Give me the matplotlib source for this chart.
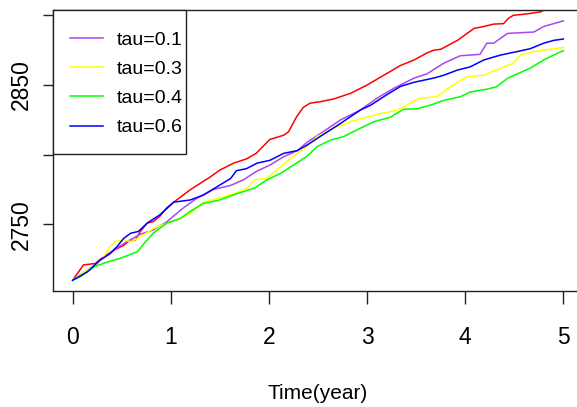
import matplotlib
matplotlib.use('Agg')
import matplotlib.pyplot as plt
from matplotlib.patches import Rectangle

FONT = 'Liberation Sans'

# ---------------- data ----------------
t_red = [0.0, 0.11, 0.23, 0.30, 0.43, 0.52, 0.57, 0.64, 0.69, 0.76, 0.82, 0.89, 0.96, 1.03,
         1.2, 1.4, 1.5, 1.64, 1.77, 1.87, 1.94, 2.01, 2.15, 2.20, 2.28, 2.35, 2.42, 2.52,
         2.66, 2.83, 3.0, 3.17, 3.34, 3.48, 3.61, 3.68, 3.75, 3.92, 4.09, 4.19, 4.29, 4.39,
         4.44, 4.49, 4.63, 4.77, 4.9, 5.0]
v_red = [2710, 2721, 2722, 2726, 2732, 2735, 2738, 2739, 2745, 2751, 2752, 2756, 2762, 2766,
         2775, 2784, 2789, 2794, 2797, 2801, 2806, 2811, 2814, 2816.5, 2827, 2834, 2837, 2838,
         2840, 2844, 2850, 2857, 2864, 2868, 2873, 2875, 2875.6, 2882, 2890.6, 2892, 2893.7, 2894,
         2897.8, 2900, 2901, 2902.5, 2908, 2910]

t_p1 = [0.0, 0.1, 0.21, 0.35, 0.45, 0.56, 0.69, 0.82, 0.96, 1.13, 1.27, 1.43, 1.61, 1.74,
        1.87, 2.01, 2.15, 2.29, 2.39, 2.52, 2.73, 2.93, 3.1, 3.27, 3.48, 3.61, 3.78, 3.95,
        4.15, 4.22, 4.29, 4.43, 4.56, 4.7, 4.8, 5.0]
v_p1 = [2710, 2715, 2720, 2728, 2733, 2738, 2743, 2746, 2752, 2762, 2769, 2775, 2778, 2782,
        2788, 2792.6, 2798.6, 2803, 2809, 2815, 2825, 2832, 2840.5, 2847.6, 2855, 2858, 2865.6, 2871,
        2872, 2880, 2880, 2887, 2887.5, 2888, 2892, 2896]

t_p3 = [0.0, 0.15, 0.25, 0.32, 0.38, 0.43, 0.52, 0.59, 0.69, 0.82, 0.96, 1.06, 1.2, 1.33,
        1.5, 1.64, 1.78, 1.85, 1.98, 2.08, 2.18, 2.29, 2.39, 2.49, 2.66, 2.83, 3.0, 3.17,
        3.31, 3.44, 3.54, 3.71, 3.85, 4.02, 4.19, 4.36, 4.49, 4.56, 4.7, 4.8, 4.9, 5.0]
v_p3 = [2710, 2717.4, 2721, 2727, 2734, 2737.7, 2739, 2737.7, 2741, 2747, 2751, 2753, 2758, 2766,
        2769, 2772, 2776, 2782, 2783, 2789, 2795, 2801, 2806, 2813, 2819, 2823.7, 2827, 2830,
        2832, 2837, 2840.5, 2841.6, 2848.8, 2856, 2857, 2862, 2865.6, 2871.5, 2874, 2875, 2876, 2877]

t_p4 = [0.0, 0.08, 0.22, 0.35, 0.49, 0.66, 0.73, 0.82, 0.96, 1.1, 1.2, 1.33, 1.5, 1.67,
        1.85, 1.98, 2.12, 2.25, 2.39, 2.49, 2.63, 2.76, 2.93, 3.07, 3.24, 3.37, 3.51, 3.65,
        3.78, 3.95, 4.05, 4.22, 4.32, 4.43, 4.53, 4.66, 4.8, 4.9, 5.0]
v_p4 = [2710, 2712.6, 2719.7, 2723, 2725.8, 2730.5, 2736.5, 2743.7, 2751, 2754.4, 2759.5, 2765, 2767.6, 2772,
        2776, 2782, 2786.7, 2792.6, 2799, 2805.8, 2810.6, 2813, 2819, 2823.7, 2827, 2832.6, 2833, 2835.7,
        2839, 2841.6, 2845, 2847, 2848.8, 2854.8, 2858, 2862, 2868, 2871.5, 2874.6]

t_p6 = [0.0, 0.15, 0.28, 0.38, 0.45, 0.52, 0.59, 0.67, 0.76, 0.89, 1.03, 1.2, 1.33, 1.47,
        1.61, 1.67, 1.77, 1.88, 2.01, 2.15, 2.29, 2.39, 2.52, 2.73, 2.93, 3.04, 3.2, 3.34,
        3.48, 3.68, 3.78, 3.92, 4.05, 4.19, 4.36, 4.53, 4.66, 4.8, 4.9, 5.0]
v_p6 = [2710, 2716, 2724.5, 2729, 2734, 2740, 2743.7, 2745, 2751, 2757, 2766, 2767.6, 2771, 2777,
        2783, 2788.6, 2790, 2794, 2796, 2801, 2803, 2807, 2813, 2822.5, 2832, 2835.7, 2843, 2849,
        2852, 2855, 2857, 2860.7, 2863, 2868, 2871.5, 2874, 2876, 2880, 2882, 2883]

legend_labels = ['tau=0.1', 'tau=0.3', 'tau=0.4', 'tau=0.6']
x_ticks = [0, 1, 2, 3, 4, 5]
y_ticks = [2750, 2800, 2850, 2900]
y_tick_labels = ['2750', '', '2850', '']

# ---------------- figure ----------------
W, H = 577, 407
fig = plt.figure(figsize=(W / 100, H / 100), dpi=100)
AX_L, AX_R, AX_T, AX_B = 53, 583, 10, 291
ax = fig.add_axes([AX_L / W, (H - AX_B) / H, (AX_R - AX_L) / W, (AX_B - AX_T) / H])

lw = 1.1
ax.plot(t_red, v_red, color='#FF0000', lw=lw)
l1, = ax.plot(t_p1, v_p1, color='#A848F0', lw=lw)
l3, = ax.plot(t_p3, v_p3, color='#FFFF00', lw=lw)
l4, = ax.plot(t_p4, v_p4, color='#00FF00', lw=lw)
l6, = ax.plot(t_p6, v_p6, color='#0000FF', lw=lw)

ax.set_xlim(-0.2, 5.2)
ax.set_ylim(2702.3, 2903.8)

ax.set_xticks(x_ticks)
ax.set_xticklabels([str(v) for v in x_ticks], fontfamily=FONT, fontsize=16.5)
ax.set_yticks(y_ticks)
ax.set_yticklabels(y_tick_labels, fontfamily=FONT, fontsize=16.5, rotation=90, va='center')

ax.tick_params(axis='x', length=9.5, width=1.0, pad=16, color='#222222')
ax.tick_params(axis='y', length=7.2, width=1.0, pad=7, color='#222222')

for s in ax.spines.values():
    s.set_linewidth(1.0)
    s.set_color('#222222')

ax.set_xlabel('Time(year)', fontfamily=FONT, fontsize=15, labelpad=25)

# legend: entries placed by matplotlib, frame drawn to the reference's box
aw, ah = AX_R - AX_L, AX_B - AX_T
def ax_frac(px, py):
    return ((px - AX_L) / aw, 1 - (py - AX_T) / ah)

fs = 14
fs_px = fs * 100 / 72
leg = ax.legend([l1, l3, l4, l6], legend_labels, loc='upper left',
                bbox_to_anchor=ax_frac(70, 31), borderaxespad=0, frameon=False,
                prop={'family': FONT, 'size': fs}, handlelength=33 / fs_px,
                handletextpad=14 / fs_px, labelspacing=0.60, borderpad=0)
x0, y1 = ax_frac(53, 10)
x1, y0 = ax_frac(186, 154)
ax.add_patch(Rectangle((x0, y0), x1 - x0, y1 - y0, transform=ax.transAxes,
                       facecolor='white', edgecolor='#222222', lw=1.0, zorder=4.5,
                       clip_on=False))

fig.savefig('out.png', dpi=100)
